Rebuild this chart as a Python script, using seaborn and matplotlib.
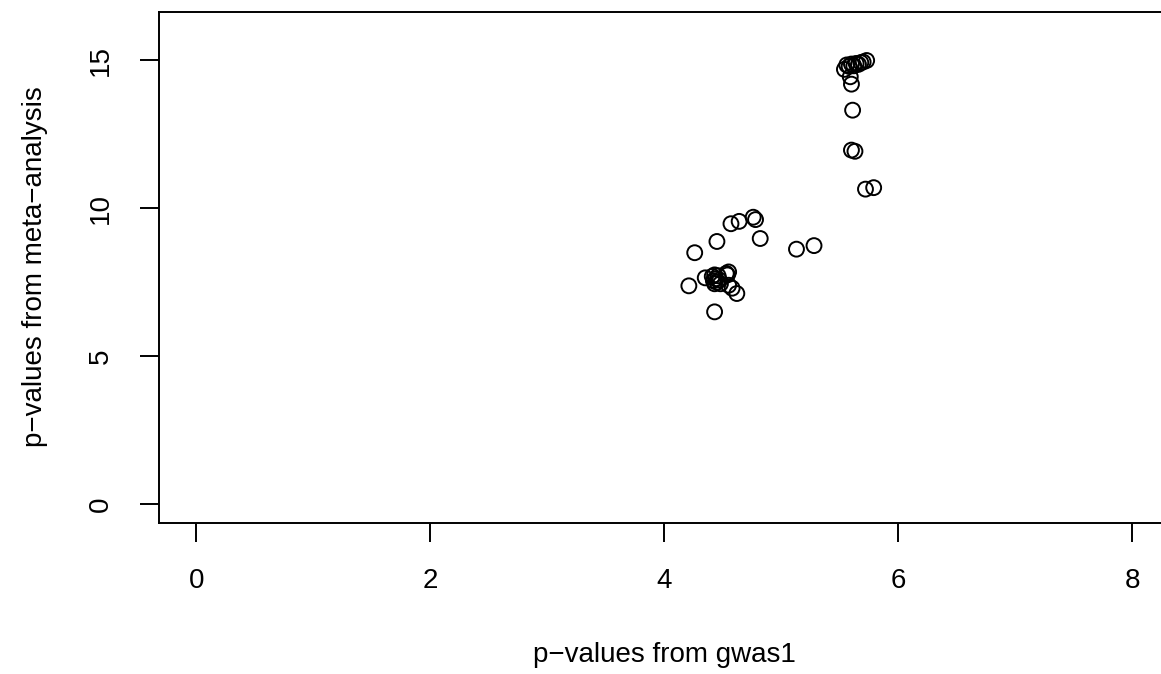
import matplotlib
matplotlib.use("Agg")
import matplotlib.pyplot as plt
import seaborn as sns
import pandas as pd

gwas1 = [4.21, 4.26, 4.35, 4.41, 4.42, 4.43, 4.43, 4.44, 4.45, 4.46, 4.47, 4.48,
         4.43, 4.45, 4.53, 4.55, 4.54, 4.55, 4.58, 4.62, 4.57, 4.64, 4.76, 4.78,
         4.82, 5.13, 5.28,
         5.54, 5.56, 5.58, 5.60, 5.62, 5.64, 5.66, 5.68, 5.70, 5.73, 5.59, 5.60,
         5.61, 5.60, 5.63, 5.72, 5.79]
meta = [7.38, 8.50, 7.65, 7.70, 7.55, 7.45, 7.75, 7.62, 7.50, 7.72, 7.58, 7.45,
        6.50, 8.88, 7.80, 7.85, 7.75, 7.40, 7.30, 7.12, 9.48, 9.56, 9.70, 9.62,
        8.98, 8.62, 8.74,
        14.70, 14.85, 14.80, 14.88, 14.82, 14.90, 14.87, 14.93, 14.95, 15.00, 14.45, 14.20,
        13.32, 11.97, 11.93, 10.65, 10.70]
x_ticks = [0, 2, 4, 6, 8]
y_ticks = [0, 5, 10, 15]
x_label = "p\u2212values from gwas1"
y_label = "p\u2212values from meta\u2212analysis"

sns.set_style("white")
plt.rcParams['font.family'] = ['Liberation Sans', 'DejaVu Sans']
plt.rcParams['text.color'] = 'black'

df = pd.DataFrame({"gwas1": gwas1, "meta": meta})

fig = plt.figure(figsize=(11.61, 6.74), dpi=100)
W, H = 1161, 674
left, right, top, bottom = 159, 1169.6, 12, 523
ax = fig.add_axes([left / W, 1 - bottom / H, (right - left) / W, (bottom - top) / H])

sns.scatterplot(data=df, x="gwas1", y="meta", ax=ax, s=115, facecolor="none",
                edgecolor="black", linewidth=1.4, legend=False)

ax.set_xlim(-0.32, 8.32)
ax.set_ylim(-0.64, 16.64)
ax.set_xticks(x_ticks)
ax.set_yticks(y_ticks)
ax.set_xticklabels([str(t) for t in x_ticks], fontsize=20)
ax.set_yticklabels([str(t) for t in y_ticks], fontsize=20, rotation=90, va="center")
ax.tick_params(axis="both", direction="out", length=13.7, width=1.4, color="black",
               pad=19, labelcolor="black")
ax.tick_params(axis="both", which="both", bottom=True, left=True)
ax.set_xlabel("")
ax.set_ylabel("")
for sp in ax.spines.values():
    sp.set_visible(True)
    sp.set_color("black")
    sp.set_linewidth(1.4)

fig.text(664 / W, 1 - 655 / H, x_label, ha="center", va="center", fontsize=20, color="black")
fig.text(35 / W, 1 - 267 / H, y_label, ha="center", va="center", fontsize=20,
         rotation=90, color="black")

fig.savefig("out.png", dpi=100)
